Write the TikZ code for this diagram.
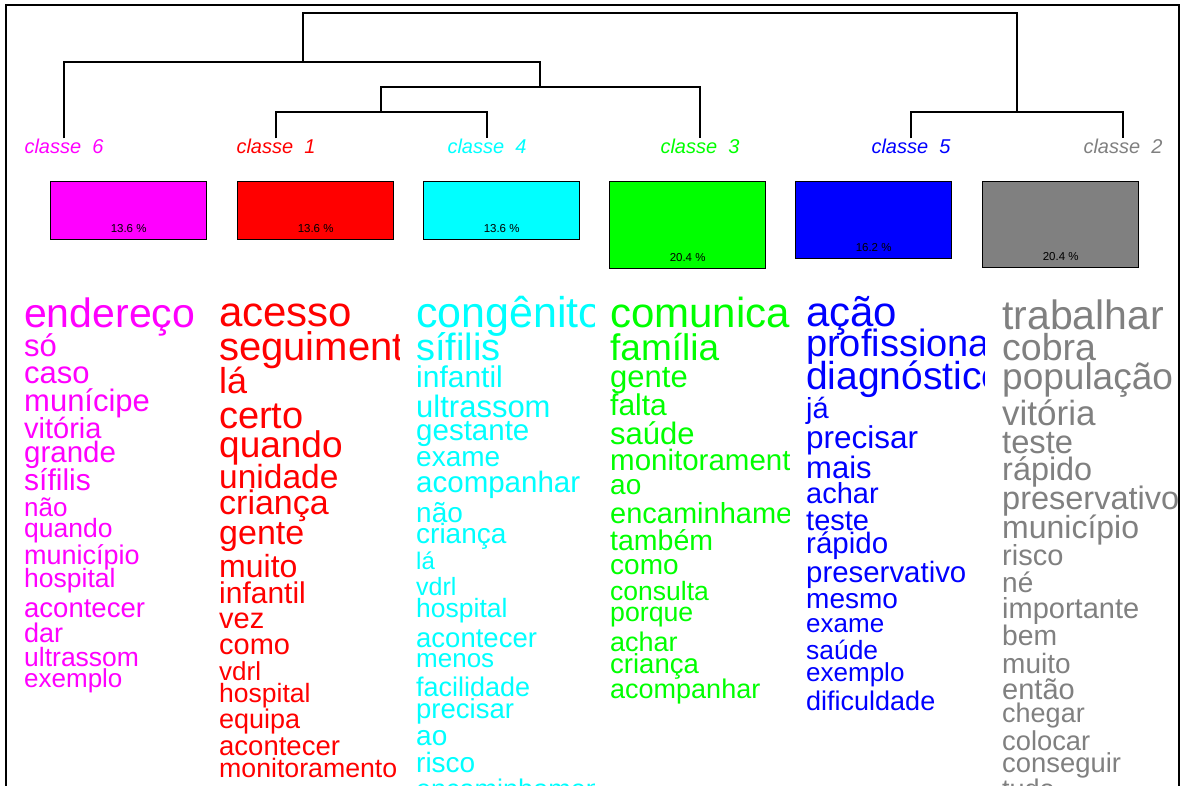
\documentclass[tikz,border=0pt]{standalone}
\usepackage{fontspec}
\setmainfont{Liberation Sans}
\usetikzlibrary{positioning}

\definecolor{cl6}{HTML}{FF00FF}
\definecolor{cl1}{HTML}{FF0000}
\definecolor{cl4}{HTML}{00FFFF}
\definecolor{cl3}{HTML}{00FF00}
\definecolor{cl5}{HTML}{0000FF}
\definecolor{cl2}{HTML}{808080}

\newcommand{\wsz}[1]{\fontsize{#1}{#1}\selectfont}

\begin{document}
\begin{tikzpicture}[x=1pt, y=-1pt,
    wd/.style={anchor=base west, inner sep=0pt, font=\wsz{#1}, yshift={-0.26*#1-3}},
    cls/.style={inner sep=0pt, font=\wsz{20}\itshape},
    bar/.style={draw=black, line width=1.3pt, anchor=north west, minimum width=156pt, inner sep=0pt},
    pct/.style={inner sep=0pt, font=\wsz{11.5}},
    tree/.style={line width=1.3pt}]
    % page: 1182 x 785 px
    \clip (0,0) rectangle (1182,785);
    \draw[line width=2.5pt] (6,5) rectangle (1179,820);

    % class labels (dendrogram leaves)
    \node[cls, text=cl6] (l6) at (64,146)   {classe\ \ 6};
    \node[cls, text=cl1] (l1) at (276,146)  {classe\ \ 1};
    \node[cls, text=cl4] (l4) at (487,146)  {classe\ \ 4};
    \node[cls, text=cl3] (l3) at (700,146)  {classe\ \ 3};
    \node[cls, text=cl5] (l5) at (911,146)  {classe\ \ 5};
    \node[cls, text=cl2] (l2) at (1123,146) {classe\ \ 2};

    % dendrogram junctions
    \coordinate (n14)   at (381,112);
    \coordinate (n143)  at (540,87);
    \coordinate (n6143) at (303,62);
    \coordinate (n52)   at (1017,112);
    \coordinate (root)  at (660,13);
    \draw[tree] (l1.north) |- (n14) -| (l4.north);
    \draw[tree] (n14) |- (n143) -| (l3.north);
    \draw[tree] (l6.north) |- (n6143) -| (n143);
    \draw[tree] (l5.north) |- (n52) -| (l2.north);
    \draw[tree] (n6143) |- (root) -| (n52);

    % class size bars + percentages
    \node[bar, fill=cl6, minimum height=58pt] (b6) at (50,181)  {};
    \node[bar, fill=cl1, minimum height=58pt] (b1) at (237,181) {};
    \node[bar, fill=cl4, minimum height=58pt] (b4) at (423,181) {};
    \node[bar, fill=cl3, minimum height=87pt] (b3) at (609,181) {};
    \node[bar, fill=cl5, minimum height=77pt] (b5) at (795,181) {};
    \node[bar, fill=cl2, minimum height=86pt] (b2) at (982,181) {};
    \node[pct, above=7pt of b6.south] (p6) {13.6 \%};
    \node[pct, above=7pt of b1.south] (p1) {13.6 \%};
    \node[pct, above=7pt of b4.south] (p4) {13.6 \%};
    \node[pct, above=7pt of b3.south] (p3) {20.4 \%};
    \node[pct, above=7pt of b5.south] (p5) {16.2 \%};
    \node[pct, above=7pt of b2.south] (p2) {20.4 \%};

    % words of class 6
    \begin{scope}[cl6]
    \clip (18,290) rectangle (213,800);
    \node[wd=41]   (w6-1)  at (24,314) {endereço};
    \node[wd=31]   (w6-2)  at (24,345) {só};
    \node[wd=31]   (w6-3)  at (24,372) {caso};
    \node[wd=31]   (w6-4)  at (24,400) {munícipe};
    \node[wd=29]   (w6-5)  at (24,428) {vitória};
    \node[wd=29.5] (w6-6)  at (24,452) {grande};
    \node[wd=30]   (w6-7)  at (24,480) {sífilis};
    \node[wd=26]   (w6-8)  at (24,507) {não};
    \node[wd=26.5] (w6-9)  at (24,528) {quando};
    \node[wd=27]   (w6-10) at (24,554) {município};
    \node[wd=26.5] (w6-11) at (24,578) {hospital};
    \node[wd=27.5] (w6-12) at (24,607) {acontecer};
    \node[wd=27]   (w6-13) at (24,632) {dar};
    \node[wd=26.5] (w6-14) at (24,657) {ultrassom};
    \node[wd=26]   (w6-15) at (24,678) {exemplo};
    \end{scope}

    % words of class 1
    \begin{scope}[cl1]
    \clip (213,290) rectangle (399,800);
    \node[wd=42]   (w1-1)  at (219,313) {acesso};
    \node[wd=40]   (w1-2)  at (219,347) {seguimento};
    \node[wd=36]   (w1-3)  at (219,381) {lá};
    \node[wd=38]   (w1-4)  at (219,416) {certo};
    \node[wd=37]   (w1-5)  at (219,445) {quando};
    \node[wd=33.5] (w1-6)  at (219,477) {unidade};
    \node[wd=34]   (w1-7)  at (219,503) {criança};
    \node[wd=34]   (w1-8)  at (219,533) {gente};
    \node[wd=32]   (w1-9)  at (219,566) {muito};
    \node[wd=30]   (w1-10) at (219,593) {infantil};
    \node[wd=29]   (w1-11) at (219,618) {vez};
    \node[wd=29]   (w1-12) at (219,644) {como};
    \node[wd=26]   (w1-13) at (219,671) {vdrl};
    \node[wd=26.5] (w1-14) at (219,693) {hospital};
    \node[wd=27]   (w1-15) at (219,718) {equipa};
    \node[wd=27.5] (w1-16) at (219,745) {acontecer};
    \node[wd=26.7] (w1-17) at (219,768) {monitoramento};
    \end{scope}

    % words of class 4
    \begin{scope}[cl4]
    \clip (410,290) rectangle (594,800);
    \node[wd=43]   (w4-1)  at (416,313) {congênito};
    \node[wd=38]   (w4-2)  at (416,348) {sífilis};
    \node[wd=30]   (w4-3)  at (416,377) {infantil};
    \node[wd=31]   (w4-4)  at (416,406) {ultrassom};
    \node[wd=29.5] (w4-5)  at (416,430) {gestante};
    \node[wd=28]   (w4-6)  at (416,456) {exame};
    \node[wd=29.5] (w4-7)  at (416,482) {acompanhar};
    \node[wd=28]   (w4-8)  at (416,512) {não};
    \node[wd=28]   (w4-9)  at (416,533) {criança};
    \node[wd=24]   (w4-10) at (416,560) {lá};
    \node[wd=25]   (w4-11) at (416,586) {vdrl};
    \node[wd=26.5] (w4-12) at (416,608) {hospital};
    \node[wd=27.5] (w4-13) at (416,637) {acontecer};
    \node[wd=26]   (w4-14) at (416,658) {menos};
    \node[wd=27]   (w4-15) at (416,686) {facilidade};
    \node[wd=27.5] (w4-16) at (416,708) {precisar};
    \node[wd=28]   (w4-17) at (416,735) {ao};
    \node[wd=28]   (w4-18) at (416,762) {risco};
    \node[wd=27]   (w4-19) at (416,788) {encaminhamento};
    \end{scope}

    % words of class 3
    \begin{scope}[cl3]
    \clip (604,290) rectangle (789,800);
    \node[wd=42]   (w3-1)  at (610,314) {comunicação};
    \node[wd=37]   (w3-2)  at (610,348) {família};
    \node[wd=31]   (w3-3)  at (610,376) {gente};
    \node[wd=30]   (w3-4)  at (610,405) {falta};
    \node[wd=31]   (w3-5)  at (610,433) {saúde};
    \node[wd=29.5] (w3-6)  at (610,460) {monitoramento};
    \node[wd=28]   (w3-7)  at (610,484) {ao};
    \node[wd=29]   (w3-8)  at (610,513) {encaminhamento};
    \node[wd=28.5] (w3-9)  at (610,540) {também};
    \node[wd=28]   (w3-10) at (610,564) {como};
    \node[wd=26.5] (w3-11) at (610,591) {consulta};
    \node[wd=26.7] (w3-12) at (610,612) {porque};
    \node[wd=27]   (w3-13) at (610,641) {achar};
    \node[wd=27.5] (w3-14) at (610,663) {criança};
    \node[wd=27]   (w3-15) at (610,688) {acompanhar};
    \end{scope}

    % words of class 5
    \begin{scope}[cl5]
    \clip (800,290) rectangle (984,800);
    \node[wd=42]   (w5-1)  at (806,313) {ação};
    \node[wd=38]   (w5-2)  at (806,344) {profissional};
    \node[wd=39]   (w5-3)  at (806,376) {diagnóstico};
    \node[wd=29]   (w5-4)  at (806,408) {já};
    \node[wd=31.5] (w5-5)  at (806,437) {precisar};
    \node[wd=31]   (w5-6)  at (806,467) {mais};
    \node[wd=29]   (w5-7)  at (806,493) {achar};
    \node[wd=29]   (w5-8)  at (806,520) {teste};
    \node[wd=29.5] (w5-9)  at (806,543) {rápido};
    \node[wd=29.4] (w5-10) at (806,572) {preservativo};
    \node[wd=28]   (w5-11) at (806,598) {mesmo};
    \node[wd=26]   (w5-12) at (806,623) {exame};
    \node[wd=26.4] (w5-13) at (806,650) {saúde};
    \node[wd=26]   (w5-14) at (806,672) {exemplo};
    \node[wd=27]   (w5-15) at (806,700) {dificuldade};
    \end{scope}

    % words of class 2
    \begin{scope}[cl2]
    \clip (996,290) rectangle (1177,800);
    \node[wd=41]   (w2-1)  at (1002,316) {trabalhar};
    \node[wd=37.5] (w2-2)  at (1002,348) {cobra};
    \node[wd=37]   (w2-3)  at (1002,377) {população};
    \node[wd=35]   (w2-4)  at (1002,413) {vitória};
    \node[wd=32.7] (w2-5)  at (1002,442) {teste};
    \node[wd=32.4] (w2-6)  at (1002,469) {rápido};
    \node[wd=32.5] (w2-7)  at (1002,498) {preservativo};
    \node[wd=32]   (w2-8)  at (1002,527) {município};
    \node[wd=29]   (w2-9)  at (1002,555) {risco};
    \node[wd=28]   (w2-10) at (1002,582) {né};
    \node[wd=29]   (w2-11) at (1002,608) {importante};
    \node[wd=28.3] (w2-12) at (1002,635) {bem};
    \node[wd=28]   (w2-13) at (1002,663) {muito};
    \node[wd=29]   (w2-14) at (1002,689) {então};
    \node[wd=27]   (w2-15) at (1002,712) {chegar};
    \node[wd=27.3] (w2-16) at (1002,740) {colocar};
    \node[wd=27.4] (w2-17) at (1002,762) {conseguir};
    \node[wd=27]   (w2-18) at (1002,788) {tudo};
    \end{scope}
\end{tikzpicture}
\end{document}
